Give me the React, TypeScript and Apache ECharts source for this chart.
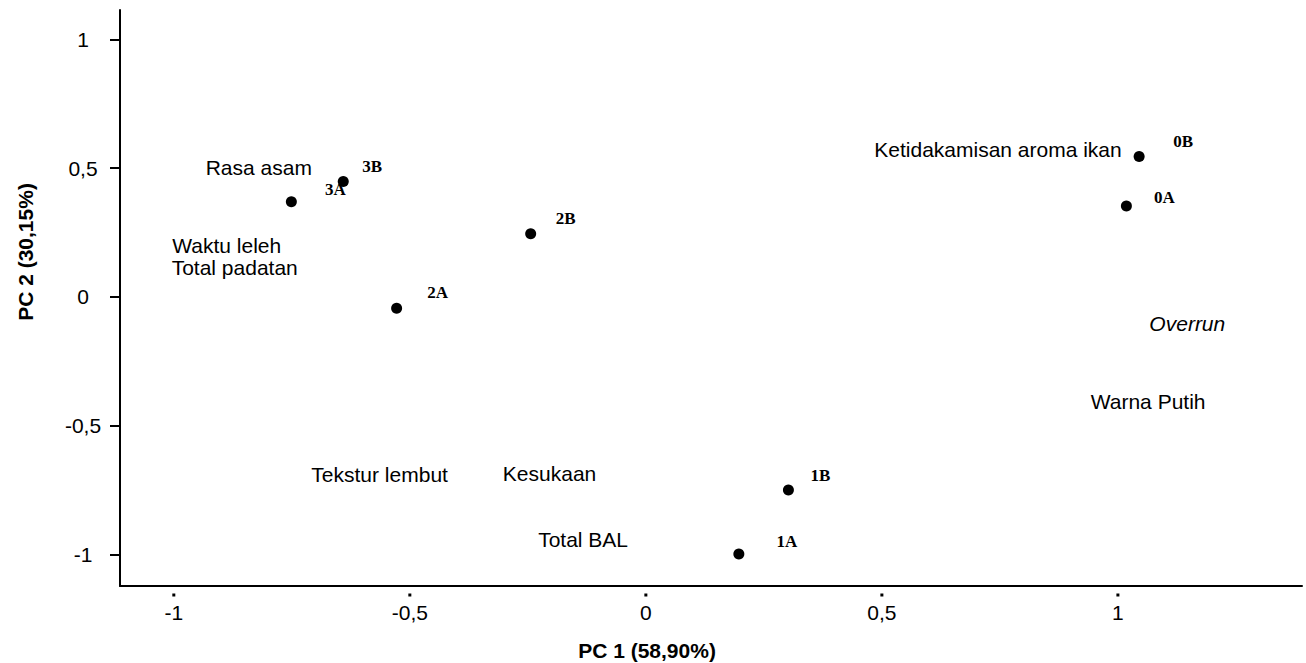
import React, { useEffect, useRef } from "react";
import * as echarts from "echarts";

// Sample scores (PC1, PC2)
const sampleNames = ["0A", "0B", "1A", "1B", "2A", "2B", "3A", "3B"];
const samplePC1 = [1.018, 1.045, 0.197, 0.302, -0.528, -0.244, -0.751, -0.641];
const samplePC2 = [0.353, 0.545, -0.998, -0.749, -0.044, 0.245, 0.37, 0.448];

// Variable label positions (PC1, PC2)
const varNames = [
  "Ketidakamisan aroma ikan",
  "Rasa asam",
  "Waktu leleh",
  "Total padatan",
  "Tekstur lembut",
  "Kesukaan",
  "Total BAL",
  "Overrun",
  "Warna Putih",
];
const varPC1 = [0.746, -0.82, -0.888, -0.871, -0.564, -0.204, -0.133, 1.147, 1.064];
const varPC2 = [0.571, 0.501, 0.198, 0.114, -0.691, -0.684, -0.943, -0.102, -0.406];

const tickValues = [-1, -0.5, 0, 0.5, 1];

const xTitle = "PC 1 (58,90%)";
const yTitle = "PC 2 (30,15%)";

// label offsets for sample labels (style)
const labelOffsets: Record<string, [number, number]> = {
  "0A": [38, -9],
  "0B": [44, -15],
  "1A": [48, -13],
  "1B": [32, -14],
  "2A": [41, -16],
  "2B": [35, -15],
  "3A": [44, -12],
  "3B": [29, -15],
};

const fmt = (v: number) => String(v).replace(".", ",");

export default function App() {
  const ref = useRef<HTMLDivElement>(null);
  useEffect(() => {
    if (!ref.current) return;
    const chart = echarts.init(ref.current, undefined, { renderer: "svg" });
    const sans = "'Liberation Sans', Arial, sans-serif";
    const serif = "'Liberation Serif', 'Times New Roman', serif";
    const xMin = -1.114;
    const xMax = 1.39;
    const yMin = -1.122;
    const yMax = 1.114;
    const sampleData = sampleNames.map((n, i) => ({
      value: [samplePC1[i], samplePC2[i]],
      name: n,
      label: { offset: labelOffsets[n] },
    }));
    const varData = varNames.map((n, i) => ({
      value: [varPC1[i], varPC2[i]],
      name: n,
      label: n === "Overrun" ? { fontStyle: "italic" } : {},
    }));
    const tickDots = tickValues.map((v) => [v, yMin]);
    chart.setOption({
      animation: false,
      backgroundColor: "#fff",
      grid: { left: 120, right: 4, top: 10, bottom: 77 },
      xAxis: {
        type: "value",
        min: xMin,
        max: xMax,
        splitLine: { show: false },
        axisLine: { show: true, onZero: false, lineStyle: { color: "#000", width: 2 } },
        axisTick: { show: false },
        axisLabel: {
          customValues: tickValues,
          formatter: fmt,
          margin: 16,
          color: "#000",
          fontSize: 21,
          fontFamily: sans,
        },
      },
      yAxis: {
        type: "value",
        min: yMin,
        max: yMax,
        splitLine: { show: false },
        axisLine: { show: true, onZero: false, lineStyle: { color: "#000", width: 2 } },
        axisTick: {
          show: true,
          customValues: tickValues,
          length: 10,
          lineStyle: { color: "#000", width: 2 },
        },
        axisLabel: {
          customValues: tickValues,
          formatter: fmt,
          margin: 37,
          align: "center",
          color: "#000",
          fontSize: 21,
          fontFamily: sans,
        },
      },
      graphic: [
        {
          type: "text",
          x: 647,
          y: 650,
          style: {
            text: xTitle,
            font: `bold 21px ${sans}`,
            fill: "#000",
            align: "center",
            verticalAlign: "middle",
          },
        },
        {
          type: "text",
          x: 25,
          y: 252,
          rotation: Math.PI / 2,
          style: {
            text: yTitle,
            font: `bold 21px ${sans}`,
            fill: "#000",
            align: "center",
            verticalAlign: "middle",
          },
        },
      ],
      series: [
        {
          type: "scatter",
          data: sampleData,
          symbol: "circle",
          symbolSize: 11,
          itemStyle: { color: "#000", opacity: 1 },
          label: {
            show: true,
            position: "inside",
            formatter: (p: any) => p.name,
            color: "#000",
            fontFamily: serif,
            fontWeight: "bold",
            fontSize: 17,
            align: "center",
            verticalAlign: "middle",
          },
          z: 3,
        },
        {
          type: "scatter",
          data: varData,
          symbolSize: 1,
          itemStyle: { color: "rgba(0,0,0,0)", opacity: 1 },
          label: {
            show: true,
            position: "inside",
            formatter: (p: any) => p.name,
            color: "#000",
            fontFamily: sans,
            fontSize: 21,
            align: "center",
            verticalAlign: "middle",
          },
          z: 2,
        },
        {
          type: "scatter",
          data: tickDots,
          clip: false,
          symbol: "rect",
          symbolSize: [3, 3],
          symbolOffset: [0, 9],
          itemStyle: { color: "#000", opacity: 1 },
          silent: true,
          z: 4,
        },
      ],
    });
    return () => chart.dispose();
  }, []);
  return (
    <div
      ref={ref}
      style={{ position: "fixed", left: 0, top: 0, width: 1306, height: 663 }}
    />
  );
}
